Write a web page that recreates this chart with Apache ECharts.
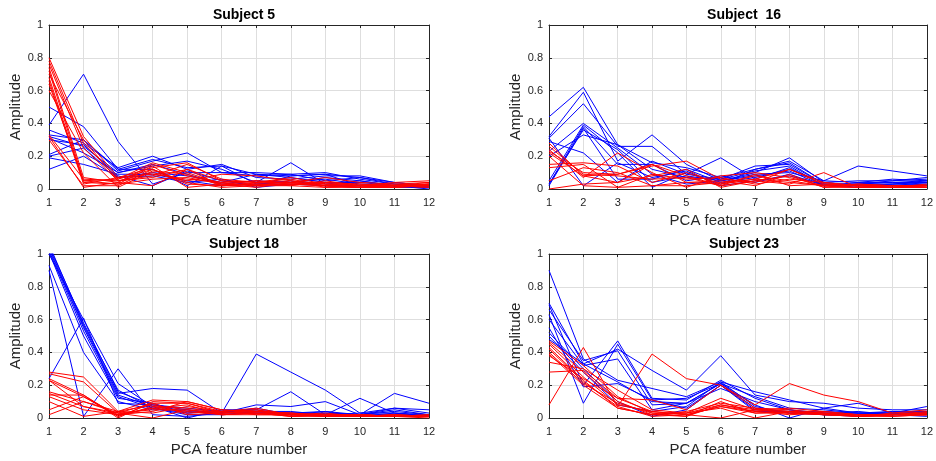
<!DOCTYPE html>
<html>
<head>
<meta charset="utf-8">
<script src="https://cdn.jsdelivr.net/npm/echarts@6/dist/echarts.min.js"></script>
<style>
html,body{margin:0;padding:0;background:#fff;}
#chart{width:936px;height:461px;}
</style>
</head>
<body>
<div id="chart"></div>
<script>
// ---- data ----
var features = [1,2,3,4,5,6,7,8,9,10,11,12];
var yTicks = [0, 0.2, 0.4, 0.6, 0.8, 1];
var titles = ['Subject 5', 'Subject  16', 'Subject 18', 'Subject 23'];
var xAxisName = 'PCA feature number';
var yAxisName = 'Amplitude';

var s5Blue = [
  [0.50,0.38,0.12,0.18,0.13,0.14,0.09,0.08,0.09,0.07,0.04,0.02],
  [0.39,0.70,0.29,0.03,0.10,0.10,0.08,0.09,0.10,0.06,0.03,0.01],
  [0.36,0.28,0.13,0.20,0.12,0.15,0.07,0.06,0.08,0.08,0.04,0.02],
  [0.33,0.30,0.11,0.17,0.22,0.10,0.10,0.09,0.05,0.07,0.03,0.01],
  [0.32,0.26,0.10,0.14,0.17,0.12,0.04,0.16,0.03,0.05,0.02,0.02],
  [0.30,0.27,0.08,0.02,0.11,0.05,0.02,0.08,0.09,0.02,0.02,0.01],
  [0.21,0.30,0.12,0.12,0.02,0.14,0.03,0.04,0.06,0.03,0.02,0.00],
  [0.20,0.25,0.07,0.10,0.08,0.04,0.09,0.07,0.04,0.04,0.02,0.01],
  [0.19,0.15,0.09,0.09,0.05,0.02,0.03,0.05,0.02,0.02,0.01,0.01],
  [0.12,0.20,0.07,0.08,0.04,0.06,0.01,0.03,0.02,0.01,0.01,0.02],
  [0.31,0.22,0.10,0.15,0.09,0.03,0.05,0.04,0.07,0.05,0.02,0.01]
];
var s5Red = [
  [0.80,0.32,0.07,0.13,0.16,0.05,0.04,0.04,0.07,0.04,0.03,0.04],
  [0.78,0.28,0.06,0.16,0.10,0.03,0.05,0.03,0.02,0.02,0.02,0.03],
  [0.76,0.25,0.05,0.10,0.05,0.09,0.08,0.05,0.03,0.02,0.04,0.05],
  [0.74,0.07,0.04,0.15,0.08,0.04,0.02,0.03,0.04,0.03,0.02,0.02],
  [0.72,0.05,0.06,0.12,0.03,0.02,0.04,0.06,0.02,0.01,0.01,0.03],
  [0.70,0.30,0.05,0.07,0.12,0.05,0.03,0.02,0.05,0.02,0.03,0.02],
  [0.68,0.04,0.03,0.14,0.01,0.03,0.02,0.05,0.01,0.02,0.02,0.01],
  [0.66,0.03,0.07,0.09,0.06,0.04,0.05,0.04,0.03,0.02,0.01,0.02],
  [0.60,0.22,0.01,0.11,0.09,0.02,0.03,0.03,0.02,0.01,0.02,0.03],
  [0.33,0.06,0.05,0.08,0.15,0.06,0.04,0.07,0.03,0.03,0.02,0.04],
  [0.30,0.02,0.02,0.12,0.04,0.01,0.02,0.02,0.01,0.01,0.01,0.02],
  [0.64,0.05,0.03,0.06,0.07,0.03,0.01,0.04,0.02,0.01,0.02,0.01],
  [0.32,0.01,0.04,0.02,0.12,0.02,0.03,0.03,0.04,0.02,0.01,0.03]
];

var s16Blue = [
  [0.44,0.62,0.27,0.16,0.13,0.07,0.12,0.17,0.05,0.14,0.11,0.08],
  [0.32,0.59,0.17,0.33,0.15,0.05,0.10,0.19,0.04,0.05,0.05,0.07],
  [0.31,0.52,0.26,0.26,0.09,0.06,0.14,0.15,0.03,0.03,0.04,0.05],
  [0.29,0.22,0.04,0.17,0.09,0.19,0.06,0.13,0.02,0.02,0.03,0.04],
  [0.23,0.40,0.25,0.09,0.03,0.05,0.09,0.10,0.05,0.04,0.06,0.05],
  [0.05,0.39,0.22,0.01,0.10,0.03,0.12,0.16,0.03,0.02,0.02,0.04],
  [0.03,0.38,0.15,0.15,0.05,0.08,0.04,0.09,0.02,0.03,0.05,0.06],
  [0.02,0.37,0.06,0.06,0.12,0.04,0.07,0.12,0.04,0.02,0.03,0.03],
  [0.20,0.33,0.27,0.12,0.07,0.06,0.11,0.14,0.02,0.04,0.04,0.04],
  [0.31,0.02,0.16,0.07,0.11,0.02,0.05,0.08,0.03,0.01,0.02,0.03],
  [0.03,0.36,0.24,0.04,0.08,0.05,0.08,0.11,0.02,0.03,0.03,0.05]
];
var s16Red = [
  [0.28,0.08,0.09,0.15,0.04,0.03,0.06,0.12,0.03,0.02,0.02,0.02],
  [0.24,0.07,0.22,0.10,0.01,0.08,0.10,0.07,0.02,0.01,0.01,0.02],
  [0.23,0.10,0.09,0.14,0.17,0.06,0.04,0.12,0.04,0.02,0.02,0.01],
  [0.22,0.08,0.04,0.08,0.12,0.01,0.05,0.03,0.10,0.01,0.01,0.01],
  [0.15,0.16,0.14,0.04,0.10,0.03,0.08,0.05,0.02,0.03,0.02,0.02],
  [0.13,0.15,0.01,0.09,0.06,0.07,0.03,0.06,0.04,0.02,0.01,0.03],
  [0.05,0.13,0.10,0.02,0.04,0.05,0.02,0.09,0.01,0.01,0.02,0.01],
  [0.00,0.03,0.04,0.15,0.08,0.02,0.09,0.02,0.03,0.02,0.01,0.02],
  [0.20,0.02,0.01,0.02,0.02,0.04,0.06,0.04,0.02,0.01,0.01,0.01],
  [0.26,0.09,0.08,0.06,0.07,0.02,0.05,0.08,0.01,0.03,0.02,0.02]
];

var s18Blue = [
  [1.05,0.58,0.16,0.08,0.05,0.03,0.39,0.28,0.17,0.03,0.06,0.05],
  [1.04,0.56,0.15,0.18,0.17,0.03,0.08,0.07,0.10,0.02,0.04,0.02],
  [1.03,0.55,0.14,0.07,0.00,0.05,0.05,0.16,0.02,0.12,0.03,0.02],
  [1.02,0.53,0.13,0.06,0.02,0.02,0.04,0.03,0.04,0.02,0.15,0.09],
  [1.01,0.50,0.12,0.09,0.03,0.04,0.05,0.02,0.02,0.01,0.02,0.02],
  [0.93,0.40,0.10,0.05,0.05,0.02,0.03,0.03,0.03,0.02,0.05,0.02],
  [0.90,0.01,0.30,0.02,0.01,0.03,0.04,0.02,0.04,0.01,0.03,0.01],
  [0.24,0.61,0.09,0.08,0.06,0.04,0.03,0.03,0.02,0.02,0.06,0.03],
  [1.00,0.60,0.21,0.07,0.04,0.03,0.06,0.02,0.03,0.02,0.02,0.02],
  [1.06,0.57,0.17,0.06,0.03,0.05,0.04,0.04,0.02,0.03,0.03,0.01]
];
var s18Red = [
  [0.28,0.25,0.04,0.11,0.10,0.05,0.04,0.03,0.02,0.02,0.01,0.01],
  [0.27,0.22,0.03,0.09,0.09,0.04,0.06,0.02,0.03,0.01,0.02,0.01],
  [0.24,0.14,0.01,0.07,0.06,0.03,0.03,0.03,0.01,0.02,0.01,0.02],
  [0.23,0.13,0.02,0.04,0.10,0.05,0.03,0.02,0.02,0.01,0.01,0.01],
  [0.16,0.10,0.04,0.08,0.03,0.04,0.05,0.01,0.02,0.02,0.01,0.00],
  [0.15,0.07,0.03,0.05,0.05,0.02,0.02,0.02,0.01,0.01,0.02,0.01],
  [0.14,0.14,0.00,0.10,0.09,0.03,0.04,0.02,0.02,0.01,0.01,0.01],
  [0.13,0.05,0.02,0.06,0.04,0.02,0.03,0.01,0.01,0.02,0.01,0.01],
  [0.10,0.01,0.04,0.03,0.07,0.04,0.02,0.02,0.02,0.01,0.01,0.02],
  [0.05,0.13,0.01,0.09,0.02,0.03,0.04,0.03,0.01,0.01,0.02,0.01],
  [0.02,0.10,0.03,0.00,0.05,0.03,0.05,0.02,0.01,0.02,0.01,0.01],
  [0.23,0.07,0.02,0.06,0.08,0.02,0.03,0.01,0.02,0.01,0.01,0.01]
];

var s23Blue = [
  [0.90,0.36,0.23,0.18,0.13,0.22,0.16,0.11,0.06,0.09,0.03,0.07],
  [0.70,0.33,0.42,0.29,0.17,0.38,0.14,0.10,0.09,0.06,0.05,0.05],
  [0.69,0.20,0.47,0.12,0.11,0.23,0.12,0.05,0.02,0.03,0.03,0.03],
  [0.66,0.35,0.41,0.08,0.09,0.21,0.08,0.00,0.06,0.03,0.03,0.02],
  [0.63,0.09,0.45,0.11,0.06,0.20,0.04,0.04,0.02,0.02,0.04,0.03],
  [0.60,0.32,0.36,0.05,0.09,0.18,0.10,0.05,0.03,0.04,0.02,0.02],
  [0.55,0.19,0.21,0.11,0.12,0.21,0.06,0.03,0.04,0.03,0.02,0.04],
  [0.52,0.30,0.10,0.01,0.05,0.20,0.05,0.04,0.03,0.02,0.03,0.03],
  [0.50,0.28,0.08,0.04,0.07,0.22,0.07,0.03,0.02,0.01,0.02,0.01],
  [0.48,0.33,0.22,0.10,0.09,0.21,0.13,0.06,0.05,0.03,0.04,0.04]
];
var s23Red = [
  [0.08,0.43,0.07,0.39,0.24,0.20,0.08,0.21,0.14,0.10,0.03,0.05],
  [0.28,0.29,0.12,0.11,0.05,0.20,0.06,0.04,0.03,0.02,0.02,0.03],
  [0.34,0.30,0.17,0.05,0.03,0.12,0.05,0.06,0.04,0.02,0.02,0.04],
  [0.47,0.32,0.13,0.03,0.01,0.10,0.03,0.03,0.02,0.01,0.02,0.02],
  [0.46,0.28,0.10,0.02,0.03,0.08,0.05,0.04,0.03,0.01,0.02,0.03],
  [0.45,0.25,0.08,0.04,0.02,0.07,0.04,0.03,0.02,0.02,0.01,0.02],
  [0.43,0.23,0.06,0.02,0.04,0.09,0.06,0.05,0.03,0.01,0.03,0.03],
  [0.42,0.22,0.07,0.01,0.02,0.00,0.05,0.03,0.04,0.02,0.02,0.02],
  [0.40,0.21,0.09,0.03,0.03,0.06,0.00,0.04,0.02,0.01,0.02,0.03],
  [0.39,0.20,0.06,0.02,0.01,0.08,0.04,0.02,0.03,0.01,0.01,0.02],
  [0.38,0.24,0.12,0.04,0.02,0.07,0.03,0.04,0.02,0.02,0.02,0.03]
];

var panelsBlue = [s5Blue, s16Blue, s18Blue, s23Blue];
var panelsRed = [s5Red, s16Red, s18Red, s23Red];

// ---- layout / style ----
var FONT = "'Liberation Sans', Arial, Helvetica, sans-serif";
var AX = '#262626';
var GRIDC = '#dedede';
var grids = [
  {left: 49, top: 25, width: 380, height: 164},
  {left: 549, top: 25, width: 380, height: 164},
  {left: 49, top: 254, width: 380, height: 164},
  {left: 549, top: 254, width: 380, height: 164}
];

var option = {
  animation: false,
  backgroundColor: '#ffffff',
  title: [],
  grid: [],
  xAxis: [],
  yAxis: [],
  series: []
};

grids.forEach(function (g, p) {
  option.grid.push({left: g.left, top: g.top, width: g.width, height: g.height, containLabel: false, show: false});
  option.title.push({
    text: titles[p],
    left: g.left + g.width / 2,
    top: g.top - 22,
    textAlign: 'center',
    textStyle: {fontFamily: FONT, fontSize: 14, fontWeight: 'bold', color: '#000'}
  });
  var xi = option.xAxis.length;
  var yi = option.yAxis.length;
  // main x (bottom)
  option.xAxis.push({
    type: 'value', gridIndex: p, min: 1, max: 12, interval: 1, position: 'bottom',
    name: xAxisName, nameLocation: 'middle', nameGap: 24,
    nameTextStyle: {fontFamily: FONT, fontSize: 15, color: AX},
    axisLine: {show: true, onZero: false, lineStyle: {color: AX, width: 1}},
    axisTick: {show: true, inside: true, length: 3, lineStyle: {color: AX}},
    axisLabel: {fontFamily: FONT, fontSize: 11, color: AX, margin: 8},
    splitLine: {show: true, lineStyle: {color: GRIDC, width: 1}}
  });
  // mirrored x (top)
  option.xAxis.push({
    type: 'value', gridIndex: p, min: 1, max: 12, interval: 1, position: 'top',
    axisLine: {show: true, onZero: false, lineStyle: {color: AX, width: 1}},
    axisTick: {show: true, inside: true, length: 3, lineStyle: {color: AX}},
    axisLabel: {show: false}, splitLine: {show: false}
  });
  option.yAxis.push({
    type: 'value', gridIndex: p, min: 0, max: 1, interval: 0.2, position: 'left',
    name: yAxisName, nameLocation: 'middle', nameGap: 26, nameRotate: 90,
    nameTextStyle: {fontFamily: FONT, fontSize: 15, color: AX},
    axisLine: {show: true, onZero: false, lineStyle: {color: AX, width: 1}},
    axisTick: {show: true, inside: true, length: 3, lineStyle: {color: AX}},
    axisLabel: {fontFamily: FONT, fontSize: 11, color: AX, margin: 6,
      formatter: function (v) { return String(Math.round(v * 10) / 10); }},
    splitLine: {show: true, lineStyle: {color: GRIDC, width: 1}}
  });
  option.yAxis.push({
    type: 'value', gridIndex: p, min: 0, max: 1, interval: 0.2, position: 'right',
    axisLine: {show: true, onZero: false, lineStyle: {color: AX, width: 1}},
    axisTick: {show: true, inside: true, length: 3, lineStyle: {color: AX}},
    axisLabel: {show: false}, splitLine: {show: false}
  });

  function addLines(rows, color) {
    rows.forEach(function (row) {
      option.series.push({
        type: 'line', xAxisIndex: xi, yAxisIndex: yi,
        data: features.map(function (f, i) { return [f, row[i]]; }),
        showSymbol: false, symbol: 'none', clip: true, silent: true,
        lineStyle: {color: color, width: 1},
        z: 3
      });
    });
  }
  addLines(panelsBlue[p], '#0000ff');
  addLines(panelsRed[p], '#ff0000');
});

var chart = echarts.init(document.getElementById('chart'), null, {renderer: 'canvas'});
chart.setOption(option);
</script>
</body>
</html>
